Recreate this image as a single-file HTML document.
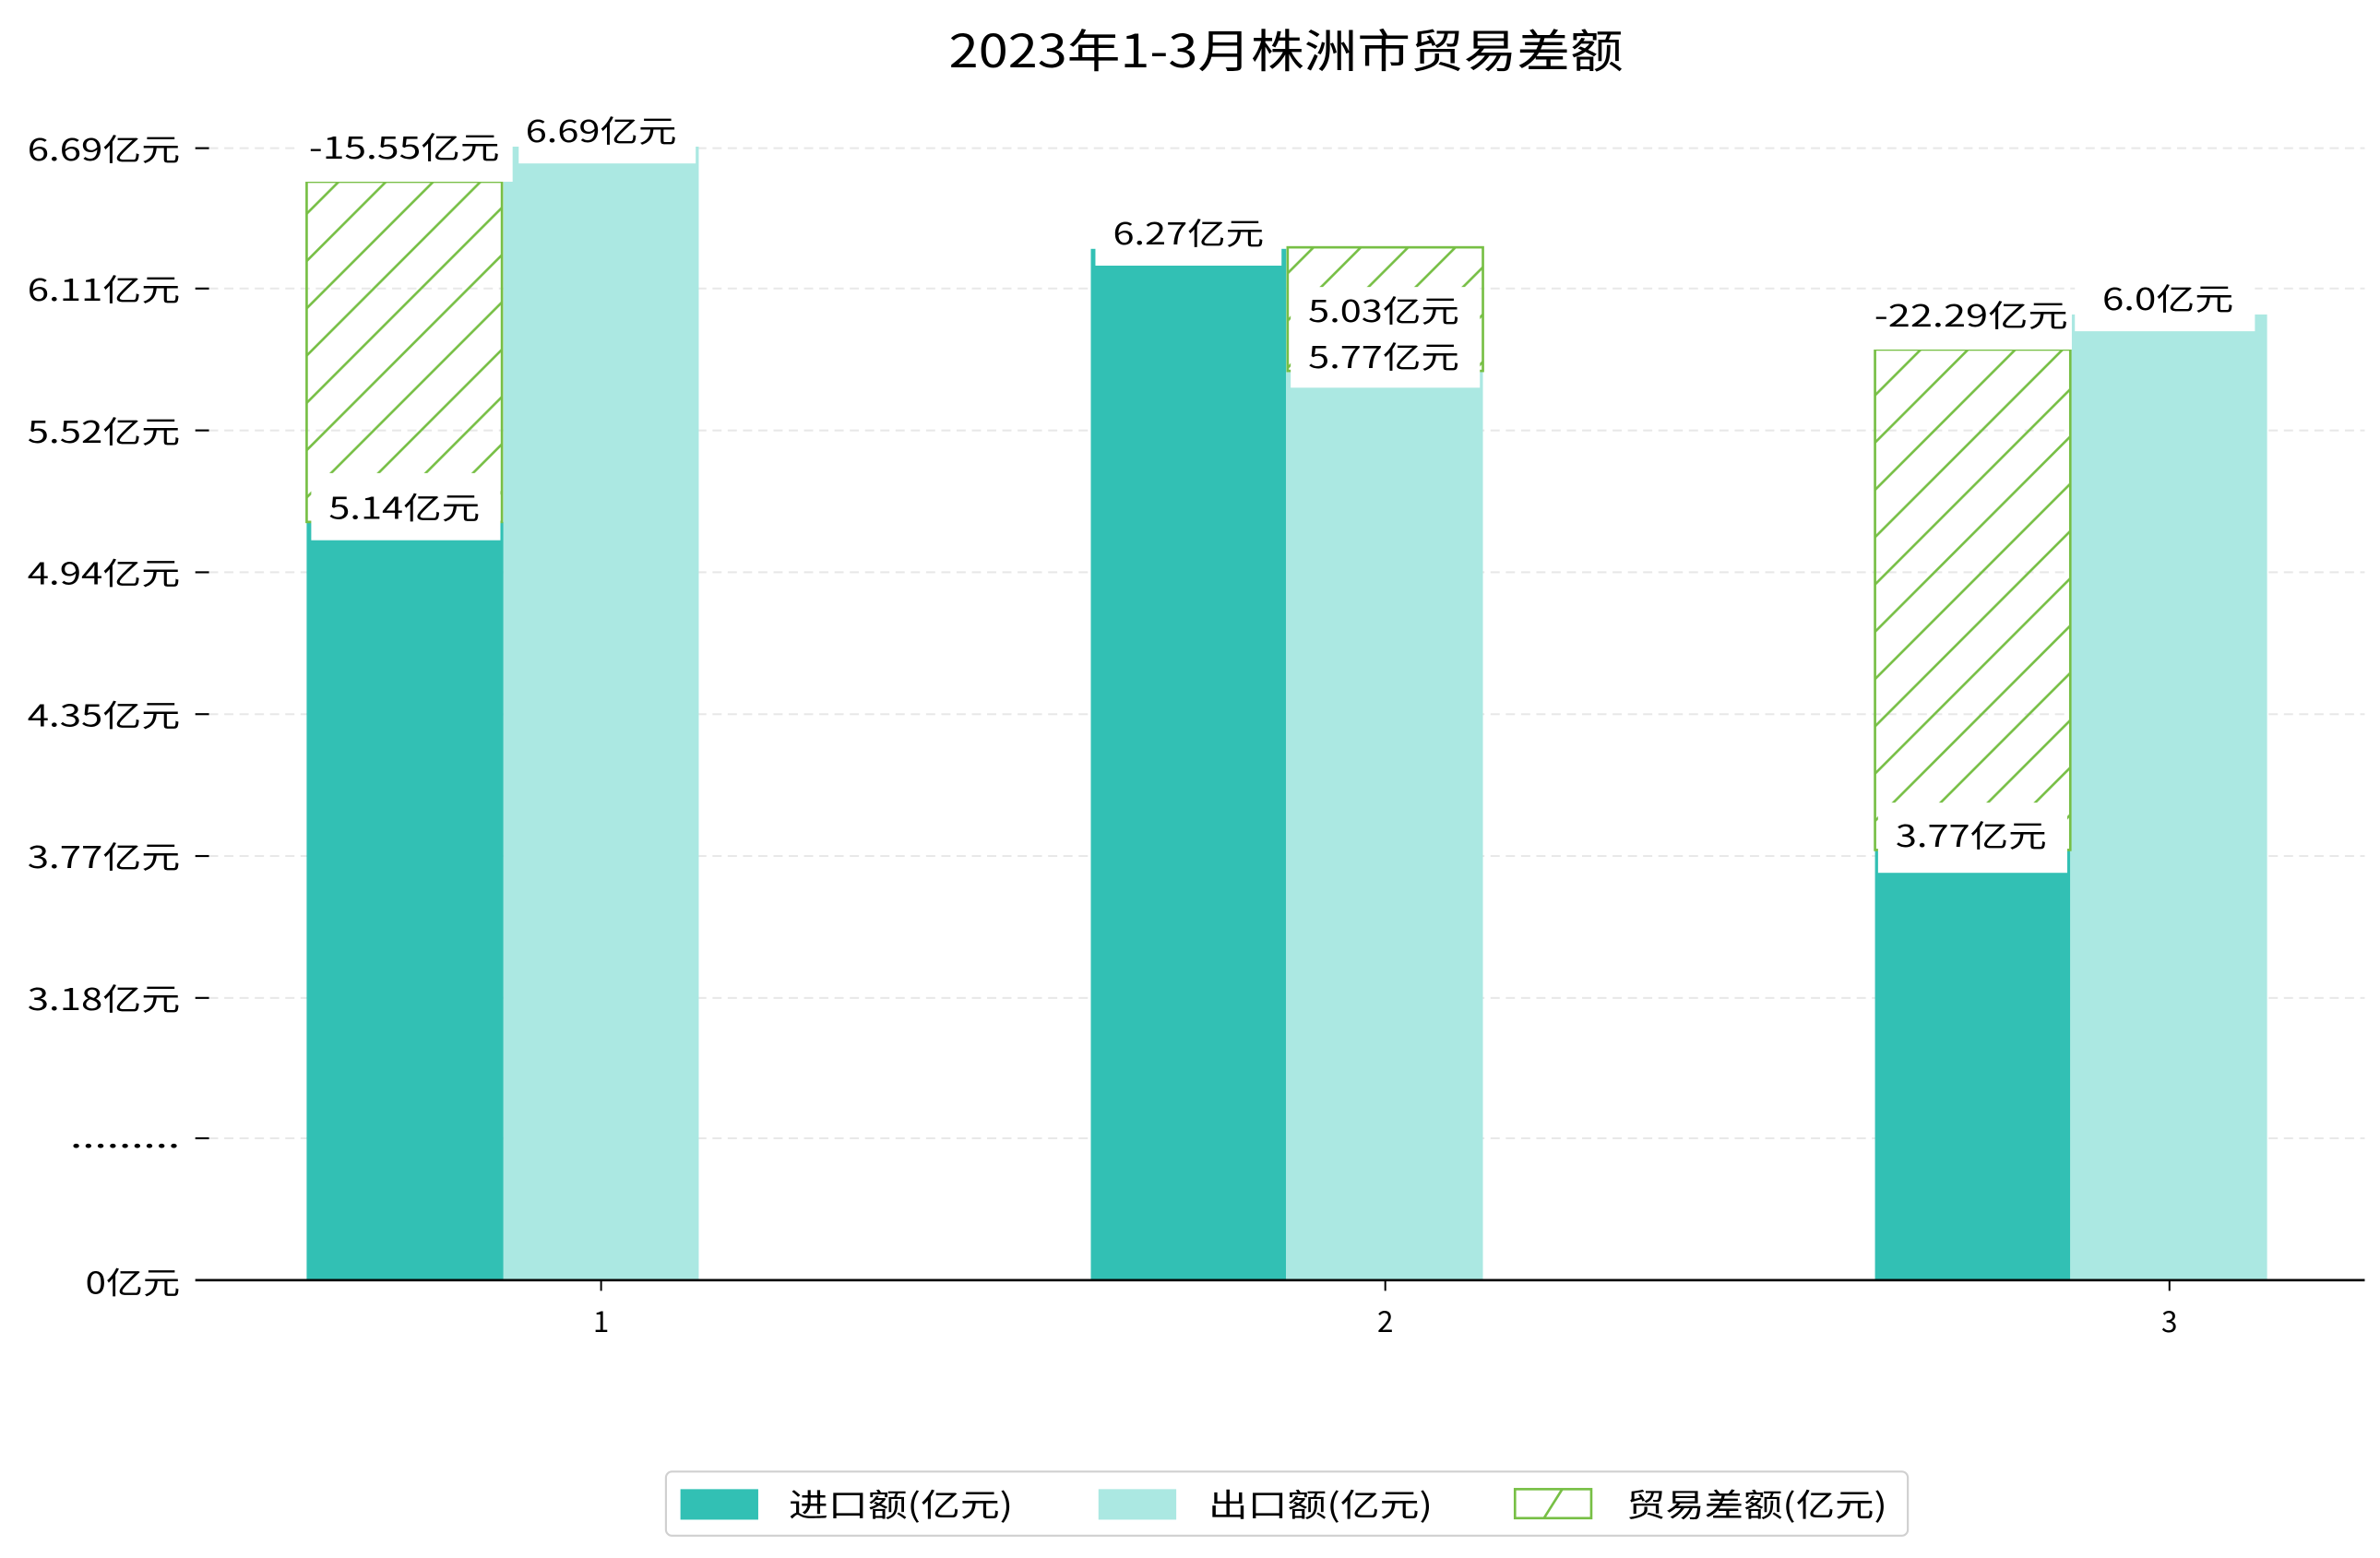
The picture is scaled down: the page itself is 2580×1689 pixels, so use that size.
<!DOCTYPE html>
<html><head><meta charset="utf-8"><style>html,body{margin:0;padding:0;background:#fff}svg{display:block}</style></head>
<body>
<svg xmlns="http://www.w3.org/2000/svg" width="2580" height="1689" viewBox="0 0 1560 1021" font-family="'WenQuanYi Zen Hei','Noto Sans CJK SC',sans-serif">
<defs>
<pattern id="h" patternUnits="userSpaceOnUse" width="31" height="31">
<path d="M-2,33 L33,-2 M-2,2 L2,-2 M29,33 L33,29" stroke="#77bf45" stroke-width="1.6" fill="none"/>
</pattern>
</defs>
<rect width="1560" height="1021" fill="#fff"/>
<text x="843" y="44" font-size="30" text-anchor="middle" fill="#000" textLength="442" lengthAdjust="spacingAndGlyphs">2023年1-3月株洲市贸易差额</text>
<g stroke="#e8e8e8" stroke-width="1.2" stroke-dasharray="6,4">
<line x1="137" y1="97" x2="1550" y2="97"/><line x1="137" y1="189" x2="1550" y2="189"/>
<line x1="137" y1="282" x2="1550" y2="282"/><line x1="137" y1="375" x2="1550" y2="375"/>
<line x1="137" y1="468" x2="1550" y2="468"/><line x1="137" y1="561" x2="1550" y2="561"/>
<line x1="137" y1="654" x2="1550" y2="654"/><line x1="137" y1="746" x2="1550" y2="746"/>
</g>
<g stroke="#000" stroke-width="1.3">
<line x1="128" y1="97" x2="137" y2="97"/><line x1="128" y1="189" x2="137" y2="189"/>
<line x1="128" y1="282" x2="137" y2="282"/><line x1="128" y1="375" x2="137" y2="375"/>
<line x1="128" y1="468" x2="137" y2="468"/><line x1="128" y1="561" x2="137" y2="561"/>
<line x1="128" y1="654" x2="137" y2="654"/><line x1="128" y1="746" x2="137" y2="746"/>
</g>
<g font-size="20" text-anchor="end" fill="#000" lengthAdjust="spacingAndGlyphs">
<text x="118" y="105" textLength="100" lengthAdjust="spacingAndGlyphs">6.69亿元</text><text x="118" y="197" textLength="100" lengthAdjust="spacingAndGlyphs">6.11亿元</text>
<text x="118" y="290" textLength="100" lengthAdjust="spacingAndGlyphs">5.52亿元</text><text x="118" y="383" textLength="100" lengthAdjust="spacingAndGlyphs">4.94亿元</text>
<text x="118" y="476" textLength="100" lengthAdjust="spacingAndGlyphs">4.35亿元</text><text x="118" y="569" textLength="100" lengthAdjust="spacingAndGlyphs">3.77亿元</text>
<text x="118" y="662" textLength="100" lengthAdjust="spacingAndGlyphs">3.18亿元</text><text x="118" y="752" textLength="72" lengthAdjust="spacingAndGlyphs">.........</text>
<text x="118" y="848" textLength="62" lengthAdjust="spacingAndGlyphs">0亿元</text>
</g>
<g>
<rect x="201" y="342" width="129" height="497" fill="#32c0b4"/>
<rect x="330" y="96" width="128" height="743" fill="#abe8e2"/>
<rect x="715" y="163" width="128" height="676" fill="#32c0b4"/>
<rect x="843" y="243" width="129" height="596" fill="#abe8e2"/>
<rect x="1229" y="557" width="128" height="282" fill="#32c0b4"/>
<rect x="1357" y="206" width="129" height="633" fill="#abe8e2"/>
</g>
<rect x="201" y="119" width="128" height="223" fill="url(#h)" stroke="#77bf45" stroke-width="1.6"/>
<rect x="844" y="162" width="128" height="81" fill="url(#h)" stroke="#77bf45" stroke-width="1.6"/>
<rect x="1229" y="229" width="128" height="328" fill="url(#h)" stroke="#77bf45" stroke-width="1.6"/>
<g font-size="20" text-anchor="middle" fill="#000">
<rect x="340" y="70" width="116" height="37" fill="#fff"/><text x="394" y="93" textLength="99" lengthAdjust="spacingAndGlyphs">6.69亿元</text>
<rect x="196" y="82" width="140" height="37" fill="#fff"/><text x="265" y="104" textLength="125" lengthAdjust="spacingAndGlyphs">-15.55亿元</text>
<rect x="204" y="310" width="124" height="44" fill="#fff"/><text x="265" y="340" textLength="99" lengthAdjust="spacingAndGlyphs">5.14亿元</text>
<rect x="718" y="137" width="122" height="37" fill="#fff"/><text x="779" y="160" textLength="99" lengthAdjust="spacingAndGlyphs">6.27亿元</text>
<rect x="846" y="218" width="124" height="36" fill="#fff"/><text x="907" y="241" textLength="99" lengthAdjust="spacingAndGlyphs">5.77亿元</text>
<rect x="846" y="188" width="124" height="33" fill="#fff"/><text x="907" y="211" textLength="99" lengthAdjust="spacingAndGlyphs">5.03亿元</text>
<rect x="1360" y="180" width="118" height="37" fill="#fff"/><text x="1421" y="203" textLength="86" lengthAdjust="spacingAndGlyphs">6.0亿元</text>
<rect x="1224" y="192" width="134" height="37" fill="#fff"/><text x="1292" y="214" textLength="127" lengthAdjust="spacingAndGlyphs">-22.29亿元</text>
<rect x="1231" y="526" width="124" height="46" fill="#fff"/><text x="1292" y="555" textLength="99" lengthAdjust="spacingAndGlyphs">3.77亿元</text>
</g>
<line x1="128" y1="839" x2="1550" y2="839" stroke="#000" stroke-width="1.6"/>
<g stroke="#000" stroke-width="1.2">
<line x1="394" y1="839" x2="394" y2="846"/><line x1="908" y1="839" x2="908" y2="846"/><line x1="1422" y1="839" x2="1422" y2="846"/>
</g>
<g font-size="19" text-anchor="middle" fill="#000">
<text x="394" y="873">1</text><text x="908" y="873">2</text><text x="1422" y="873">3</text>
</g>
<rect x="436.5" y="964.5" width="814" height="42" rx="4" fill="#fff" stroke="#d0d0d0" stroke-width="1.3"/>
<rect x="446" y="976" width="51" height="20" fill="#32c0b4"/>
<rect x="720" y="976" width="51" height="20" fill="#abe8e2"/>
<rect x="993" y="976" width="50" height="19" fill="#fff" stroke="#77bf45" stroke-width="1.6"/>
<line x1="1012" y1="995" x2="1024" y2="976" stroke="#77bf45" stroke-width="1.6"/>
<g font-size="21" fill="#000">
<text x="517" y="994" textLength="147" lengthAdjust="spacingAndGlyphs">进口额(亿元)</text>
<text x="792" y="994" textLength="147" lengthAdjust="spacingAndGlyphs">出口额(亿元)</text>
<text x="1066" y="994" textLength="171" lengthAdjust="spacingAndGlyphs">贸易差额(亿元)</text>
</g>
</svg>
</body></html>
